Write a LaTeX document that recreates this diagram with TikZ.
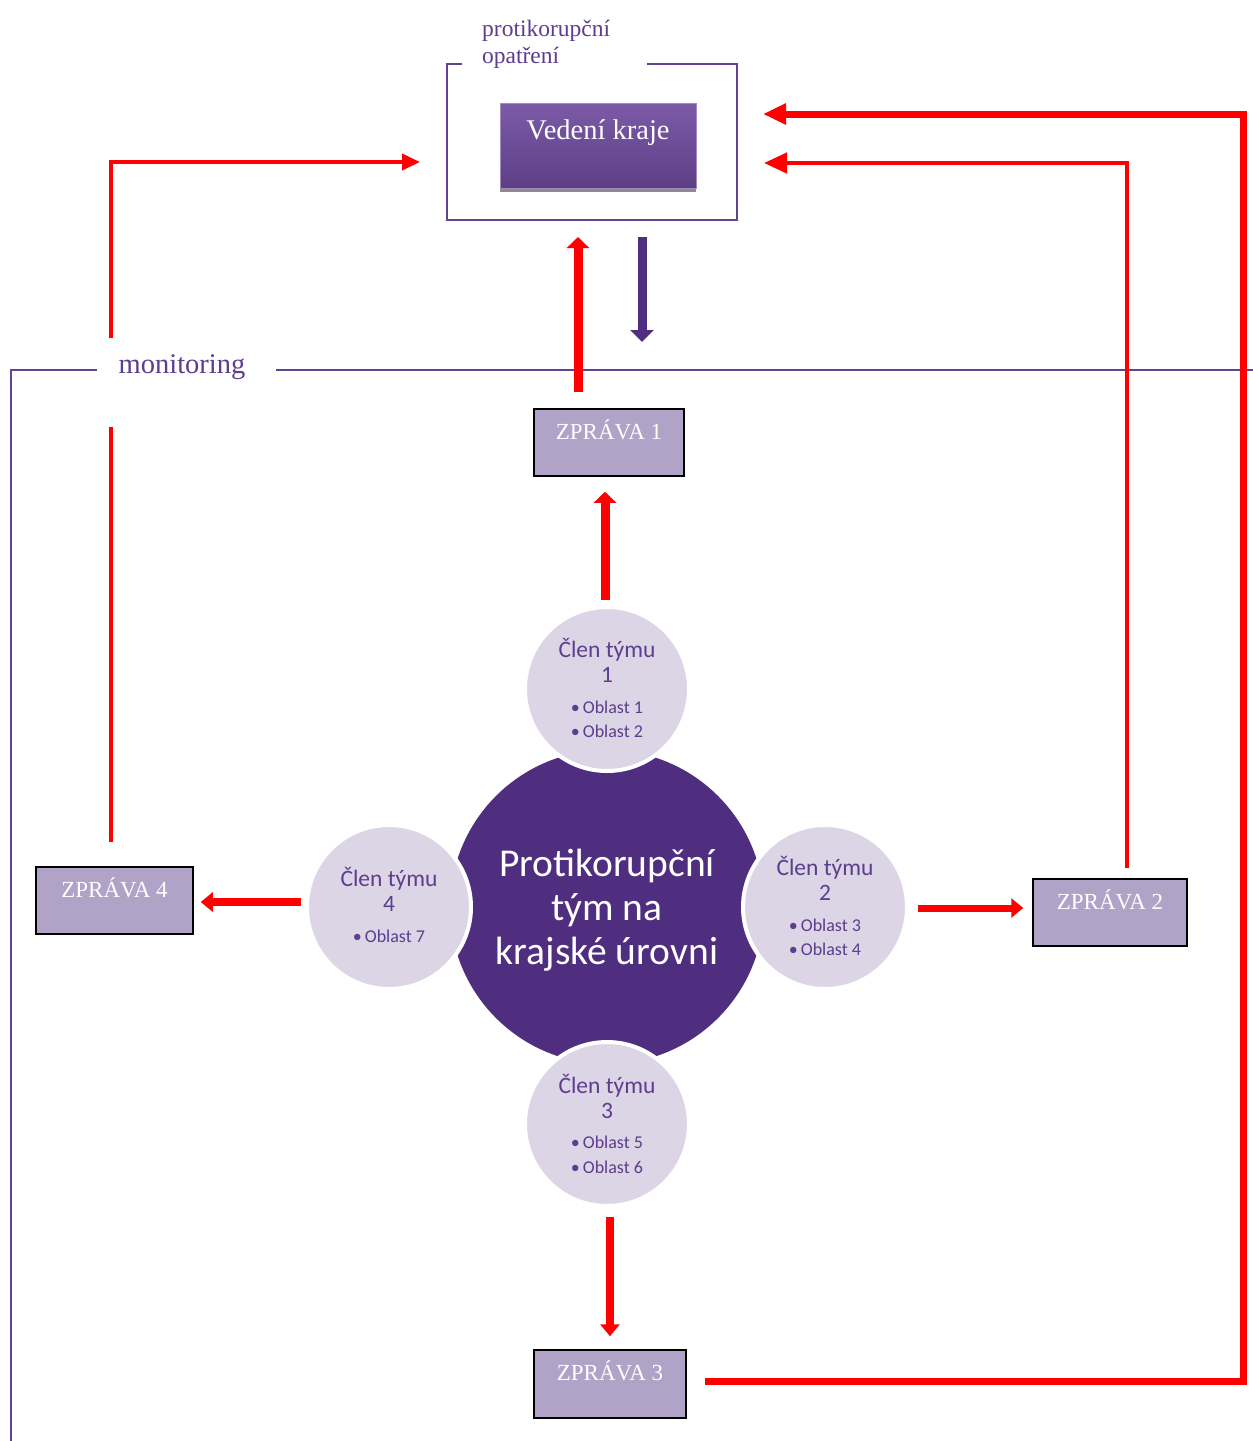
\documentclass[tikz,border=0pt]{standalone}
\usepackage{fontspec}
\setmainfont{Liberation Serif}
\newfontfamily\calfont{Carlito}
\usetikzlibrary{arrows.meta}
\definecolor{dpurple}{HTML}{4F2D7F}
\definecolor{tpurple}{HTML}{5C3D8E}
\definecolor{lcircle}{HTML}{DCD5E6}
\definecolor{zfill}{HTML}{B1A2C8}
\definecolor{framec}{HTML}{5F4496}
\definecolor{rred}{HTML}{FF0000}
\definecolor{vtop}{HTML}{7C5AA7}
\definecolor{vbot}{HTML}{5D3F86}
\begin{document}
\begin{tikzpicture}[x=1pt,y=-1pt,
  zbox/.style={draw=black,line width=1.5pt,fill=zfill,minimum height=67pt,inner sep=0pt},
  ztext/.style={text=white,font=\fontsize{23}{25}\selectfont,inner sep=0pt,anchor=north,yshift=-11pt},
  member/.style={circle,fill=lcircle,draw=white,line width=4pt,minimum size=164pt,inner sep=0pt},
  mtitle/.style={text=tpurple,font=\calfont\fontsize{23.5}{25}\selectfont,align=center,inner sep=0pt},
  mitem/.style={text=tpurple,font=\calfont\fontsize{18}{24.5}\selectfont,align=left,inner sep=0pt},
  frameline/.style={draw=framec,line width=1.3pt},
  redarrow/.style={draw=rred,line width=#1,line join=miter},
  bigtip/.style={-{Triangle[length=11pt,width=22pt]}},
  midtip/.style={-{Triangle[length=12pt,width=19pt]}},
  longtip/.style={-{Triangle[length=23pt,width=20pt]}},
  smalltip/.style={-{Triangle[length=18pt,width=16pt]}}
]
\useasboundingbox[fill=white] (0,0) rectangle (1253,1441);

% top frame
\draw[frameline] (462,64) -- (447,64) -- (447,220) -- (737,220) -- (737,64) -- (647,64);
\node[text=tpurple,font=\fontsize{23.5}{27}\selectfont,align=left,anchor=west,inner sep=0pt] (title) at (482,44) {protikorupční\\opatření};

% Vedeni kraje
\fill[gray!90] (500,106) rectangle (696,192);
\node[draw=vtop!70!white,line width=0.8pt,top color=vtop,bottom color=vbot,minimum width=196pt,minimum height=85pt,inner sep=0pt,
  label={[text=white,font=\fontsize{28.5}{30}\selectfont,anchor=north,inner sep=0pt,yshift=-17pt]north:Vedení kraje}] (vk) at (598,145.5) {};

% monitoring frame
\draw[frameline] (97,370) -- (11,370) -- (11,1441);
\draw[frameline] (276,370) -- (1253,370);
\node[text=tpurple,font=\fontsize{28.5}{30}\selectfont,inner sep=0pt] (mon) at (182,367) {monitoring};

% report boxes
\node[zbox,minimum width=150pt,label={[ztext]north:ZPRÁVA 1}] (z1) at (609,442.5) {};
\node[zbox,minimum width=154pt,label={[ztext]north:ZPRÁVA 2}] (z2) at (1110,912.5) {};
\node[zbox,minimum width=152pt,minimum height=68pt,label={[ztext]north:ZPRÁVA 3}] (z3) at (610,1384) {};
\node[zbox,minimum width=157pt,label={[ztext]north:ZPRÁVA 4}] (z4) at (114.5,900.5) {};

% central circle
\node[circle,fill=dpurple,minimum size=314pt,inner sep=0pt] (core) at (607,907) {};
\node[text=white,font=\calfont\fontsize{39.5}{44}\selectfont,align=center,inner sep=0pt] (coretext) at (607,910) {Protikorupční\\tým na\\krajské úrovni};

% members
\node[member] (c1) at (607,689) {};
\node[member] (c2) at (825,907) {};
\node[member] (c3) at (607,1124) {};
\node[member] (c4) at (389,907) {};

\node[mtitle] (c1t) at ([yshift=28.5pt]c1.center) {Člen týmu\\1};
\node[mitem] (c1i) at ([yshift=-30.5pt]c1.center) {•\,Oblast 1\\•\,Oblast 2};
\node[mtitle] (c2t) at ([yshift=28.5pt]c2.center) {Člen týmu\\2};
\node[mitem] (c2i) at ([yshift=-30.5pt]c2.center) {•\,Oblast 3\\•\,Oblast 4};
\node[mtitle] (c3t) at ([yshift=28pt]c3.center) {Člen týmu\\3};
\node[mitem] (c3i) at ([yshift=-31pt]c3.center) {•\,Oblast 5\\•\,Oblast 6};
\node[mtitle] (c4t) at ([yshift=17.5pt]c4.center) {Člen týmu\\4};
\node[mitem] (c4i) at ([xshift=0pt,yshift=-29pt]c4.center) {•\,Oblast 7};

% coordinates for connector ends
\coordinate (a4s) at (111,842);
\coordinate (a4g1) at (111,427);
\coordinate (a4g2) at (111,338);
\coordinate (a4e) at (420,162);
\coordinate (a2s) at (1127,868);
\coordinate (a2e) at (764,163);
\coordinate (a3s) at (705,1381);
\coordinate (a3c) at (1243,1381);
\coordinate (a3d) at (1243,114);
\coordinate (a3e) at (763,114);
\coordinate (a1s) at (578,392);
\coordinate (a1e) at (578,237);
\coordinate (pds) at (642,237);
\coordinate (pde) at (642,342);

% connectors
\draw[redarrow=4pt] (a4s) -- (a4g1);
\draw[redarrow=4pt,smalltip] (a4g2) |- (a4e);
\draw[redarrow=4.5pt,longtip] (a2s) |- (a2e);
\draw[redarrow=7pt,longtip] (a3s) -- (a3c) -- (a3d) -- (a3e);
\draw[redarrow=9pt,bigtip] (a1s) -- (a1e);
\draw[draw=dpurple,line width=9pt,-{Triangle[length=12pt,width=23pt]}] (pds) -- (pde);

\draw[redarrow=9pt,bigtip] ([xshift=-2pt,yshift=5pt]c1.north) -- ([xshift=-4pt,yshift=-15pt]z1.south);
\draw[redarrow=8pt,midtip] ([xshift=-4pt,yshift=5pt]c4.west) -- ([xshift=7pt,yshift=-1.5pt]z4.east);
\draw[redarrow=7pt,midtip] ([xshift=9pt,yshift=-1pt]c2.east) -- ([xshift=-9pt,yshift=4.5pt]z2.west);
\draw[redarrow=8pt,midtip] ([xshift=3pt,yshift=-9pt]c3.south) -- ([yshift=13pt]z3.north);
\end{tikzpicture}
\end{document}
